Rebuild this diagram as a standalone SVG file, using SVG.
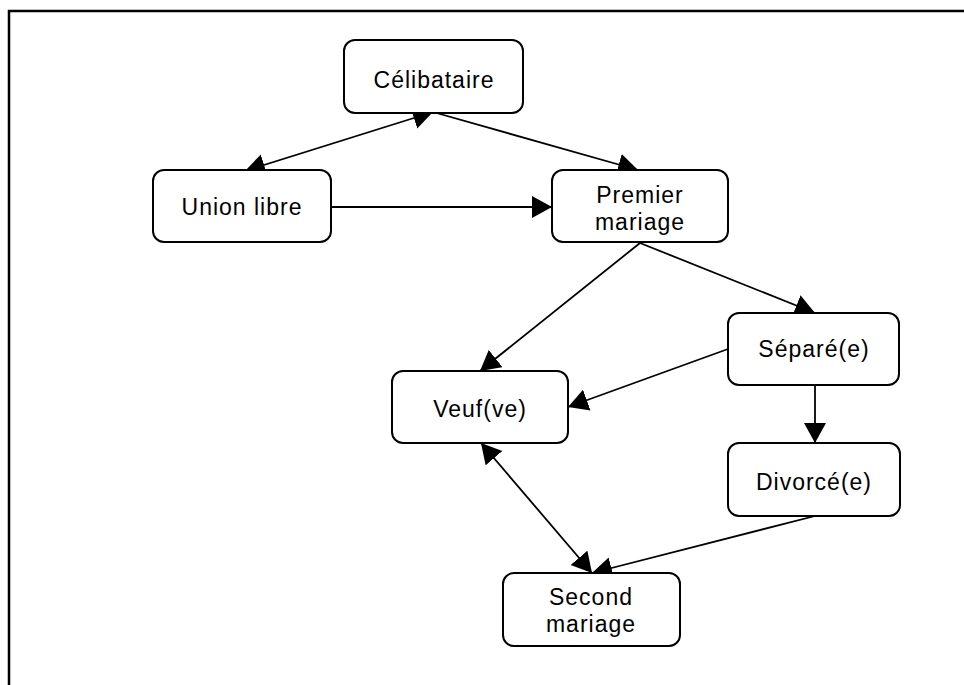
<svg xmlns="http://www.w3.org/2000/svg" width="964" height="685" viewBox="0 0 964 685">
<style>
  .box { fill: #fff; stroke: #000; stroke-width: 2; }
  .lbl { font-family: "Liberation Sans", Arial, sans-serif; font-size: 23px; letter-spacing: 1px; text-anchor: middle; fill: #000; }
  .edge { stroke: #000; stroke-width: 1.8; fill: none; }
</style>
<defs>
  <marker id="arr" markerUnits="userSpaceOnUse" markerWidth="22" markerHeight="24" refX="20" refY="11" orient="auto-start-reverse">
    <path d="M0,0 L20,11 L0,22 z" fill="#000"/>
  </marker>
</defs>
<rect x="0" y="0" width="964" height="685" fill="#fff"/>
<path d="M9,685 V11 H964" fill="none" stroke="#000" stroke-width="2.5"/>
<g id="connectors">
  <line class="edge" x1="245" y1="171" x2="433" y2="112" marker-start="url(#arr)" marker-end="url(#arr)"/>
  <line class="edge" x1="433" y1="112" x2="638" y2="170" marker-end="url(#arr)"/>
  <line class="edge" x1="331" y1="207" x2="552" y2="207" marker-end="url(#arr)"/>
  <line class="edge" x1="640" y1="243" x2="480" y2="371" marker-end="url(#arr)"/>
  <line class="edge" x1="640" y1="243" x2="815" y2="313" marker-end="url(#arr)"/>
  <line class="edge" x1="728" y1="349" x2="568" y2="407" marker-end="url(#arr)"/>
  <line class="edge" x1="815" y1="385" x2="815" y2="443" marker-end="url(#arr)"/>
  <line class="edge" x1="481" y1="443" x2="592" y2="573" marker-start="url(#arr)" marker-end="url(#arr)"/>
  <line class="edge" x1="815" y1="516" x2="592" y2="573" marker-end="url(#arr)"/>
</g>
<g id="celibataire">
  <rect class="box" x="344" y="40" width="179" height="73" rx="11"/>
  <text class="lbl" x="434" y="88">Célibataire</text>
</g>
<g id="union-libre">
  <rect class="box" x="153" y="170" width="178" height="72" rx="11"/>
  <text class="lbl" x="242" y="215">Union libre</text>
</g>
<g id="premier-mariage">
  <rect class="box" x="552" y="170" width="176" height="72" rx="11"/>
  <text class="lbl" x="640" y="203">Premier</text>
  <text class="lbl" x="640" y="230">mariage</text>
</g>
<g id="separe">
  <rect class="box" x="728" y="313" width="171" height="72" rx="11"/>
  <text class="lbl" x="814" y="357">Séparé(e)</text>
</g>
<g id="veuf">
  <rect class="box" x="392" y="371" width="176" height="72" rx="11"/>
  <text class="lbl" x="480" y="417">Veuf(ve)</text>
</g>
<g id="divorce">
  <rect class="box" x="728" y="443" width="172" height="73" rx="11"/>
  <text class="lbl" x="814" y="490">Divorcé(e)</text>
</g>
<g id="second-mariage">
  <rect class="box" x="503" y="573" width="177" height="73" rx="11"/>
  <text class="lbl" x="591" y="605">Second</text>
  <text class="lbl" x="591" y="632">mariage</text>
</g>
</svg>
